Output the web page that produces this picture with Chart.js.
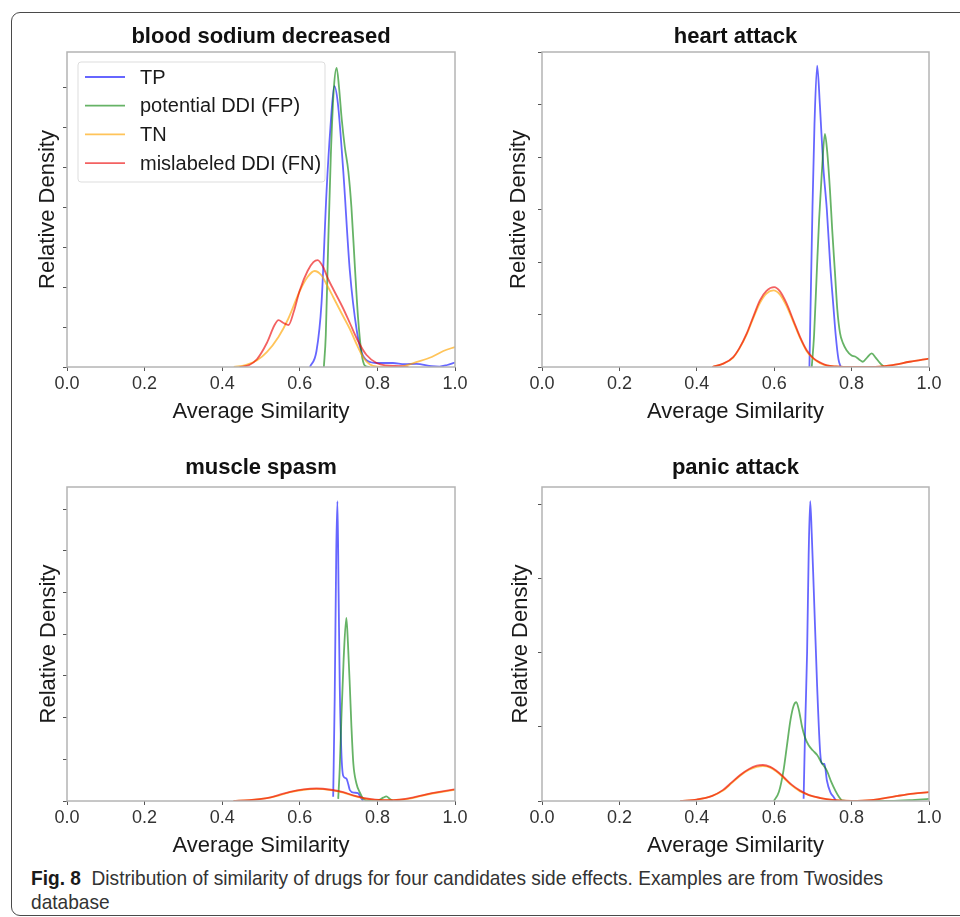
<!DOCTYPE html>
<html>
<head>
<meta charset="utf-8">
<script src="https://cdn.jsdelivr.net/npm/chart.js@4.4.0/dist/chart.umd.min.js"></script>
<style>
  body {
    margin: 0;
    background: #fff;
    width: 960px;
    height: 917px;
    overflow: hidden;
    position: relative;
  }
  #frame {
    position: absolute;
    left: 11px;
    top: 12px;
    width: 1000px;
    height: 902px;
    border: 1.5px solid #4a4a4a;
    border-radius: 9px;
  }
  canvas {
    position: absolute;
  }
  #caption {
    position: absolute;
    left: 31px;
    top: 866px;
    font-family: "Liberation Sans", Arial, sans-serif;
    font-size: 21px;
    line-height: 24px;
    color: #333;
    white-space: nowrap;
    transform: scaleX(0.91);
    transform-origin: left top;
  }
  #caption b {
    color: #1a1a1a;
  }
</style>
</head>
<body>
<div id="frame"></div>
<canvas id="c0"></canvas>
<canvas id="c1"></canvas>
<canvas id="c2"></canvas>
<canvas id="c3"></canvas>
<div id="caption"><b>Fig. 8</b>&nbsp; Distribution of similarity of drugs for four candidates side effects. Examples are from Twosides<br>database</div>
<script>
const seriesLabels = ["TP", "potential DDI (FP)", "TN", "mislabeled DDI (FN)"];
const panelTitles = ["blood sodium decreased", "heart attack", "muscle spasm", "panic attack"];
const xTickValues = [0, 0.2, 0.4, 0.6, 0.8, 1.0];
// y is in units of one (unlabelled) tick step
const yMaxes = [7.875, 6.0, 7.53, 4.23];

// [average similarity, relative density]
const bloodTP = [[0.626, 0], [0.643, 0.4], [0.656, 1.6], [0.669, 4.4], [0.679, 6.0], [0.689, 7.02], [0.698, 6.6], [0.712, 4.9], [0.729, 2.4], [0.747, 0.9], [0.76, 0.35], [0.775, 0.15], [0.8, 0.1], [0.84, 0.1], [0.87, 0.07], [0.9, 0.08], [0.94, 0.02], [0.96, 0.01], [0.98, 0.05], [1.0, 0.11]];
const bloodFP = [[0.662, 0], [0.667, 0.8], [0.673, 3.0], [0.68, 5.3], [0.688, 7.0], [0.695, 7.48], [0.701, 7.0], [0.708, 6.2], [0.716, 5.5], [0.725, 4.9], [0.733, 4.0], [0.742, 2.5], [0.75, 1.25], [0.759, 0.35], [0.768, 0.03], [0.78, 0]];
const bloodTN = [[0.43, 0], [0.46, 0.05], [0.49, 0.17], [0.515, 0.37], [0.545, 0.75], [0.57, 1.2], [0.6, 1.9], [0.62, 2.25], [0.638, 2.4], [0.655, 2.3], [0.67, 2.05], [0.686, 1.75], [0.71, 1.3], [0.729, 0.95], [0.745, 0.6], [0.763, 0.25], [0.78, 0.07], [0.8, 0.01], [0.84, 0], [0.87, 0.03], [0.9, 0.12], [0.94, 0.25], [0.97, 0.4], [1.0, 0.5]];
const bloodFN = [[0.445, 0], [0.47, 0.05], [0.49, 0.2], [0.515, 0.6], [0.535, 1.05], [0.545, 1.17], [0.558, 1.1], [0.571, 1.05], [0.585, 1.4], [0.6, 1.92], [0.62, 2.4], [0.635, 2.62], [0.646, 2.67], [0.66, 2.5], [0.673, 2.2], [0.686, 1.95], [0.71, 1.5], [0.729, 1.1], [0.75, 0.65], [0.772, 0.3], [0.798, 0.1], [0.82, 0.04], [0.86, 0.02], [0.88, 0]];

const heartTP = [[0.691, 0], [0.699, 3.07], [0.704, 4.6], [0.711, 5.74], [0.718, 5.0], [0.727, 3.8], [0.736, 3.0], [0.745, 1.91], [0.753, 1.15], [0.759, 0.6], [0.766, 0.15], [0.772, 0]];
const heartFP = [[0.697, 0], [0.703, 0.6], [0.71, 1.8], [0.716, 2.8], [0.723, 3.7], [0.731, 4.44], [0.737, 4.1], [0.744, 3.38], [0.75, 2.6], [0.757, 1.8], [0.763, 1.1], [0.77, 0.65], [0.778, 0.45], [0.787, 0.32], [0.8, 0.22], [0.809, 0.2], [0.82, 0.14], [0.829, 0.1], [0.84, 0.18], [0.852, 0.26], [0.862, 0.18], [0.873, 0.08], [0.884, 0]];
const heartTN = [[0.44, 0], [0.47, 0.07], [0.494, 0.18], [0.51, 0.35], [0.529, 0.62], [0.547, 0.95], [0.563, 1.22], [0.58, 1.4], [0.598, 1.46], [0.615, 1.38], [0.632, 1.16], [0.65, 0.85], [0.667, 0.55], [0.684, 0.3], [0.701, 0.16], [0.72, 0.07], [0.736, 0.03], [0.76, 0.01], [0.8, 0], [0.85, 0], [0.9, 0.03], [0.95, 0.1], [1.0, 0.16]];
const heartFN = [[0.44, 0], [0.47, 0.07], [0.494, 0.19], [0.51, 0.36], [0.529, 0.64], [0.547, 0.98], [0.563, 1.27], [0.58, 1.45], [0.6, 1.52], [0.615, 1.44], [0.632, 1.21], [0.65, 0.88], [0.667, 0.57], [0.684, 0.32], [0.701, 0.17], [0.72, 0.08], [0.736, 0.03], [0.76, 0.01], [0.8, 0], [0.85, 0], [0.9, 0.03], [0.95, 0.1], [1.0, 0.16]];

const muscleTP = [[0.686, 0.1], [0.69, 2.5], [0.694, 6.0], [0.697, 7.19], [0.7, 5.0], [0.703, 2.74], [0.707, 1.2], [0.712, 0.6], [0.72, 0.54], [0.725, 0.4], [0.729, 0.26], [0.74, 0.2], [0.75, 0.19], [0.756, 0.1], [0.763, 0]];
const muscleFP = [[0.699, 0.05], [0.703, 0.8], [0.707, 1.94], [0.713, 3.4], [0.72, 4.39], [0.724, 3.8], [0.729, 2.74], [0.733, 1.8], [0.738, 0.9], [0.746, 0.42], [0.755, 0.2], [0.763, 0.06], [0.78, 0], [0.8, 0.01], [0.815, 0.08], [0.823, 0.11], [0.832, 0.05], [0.84, 0]];
const muscleTN = [[0.429, 0], [0.47, 0.02], [0.515, 0.07], [0.545, 0.13], [0.575, 0.21], [0.61, 0.27], [0.643, 0.29], [0.68, 0.26], [0.712, 0.2], [0.74, 0.12], [0.772, 0.05], [0.815, 0.02], [0.84, 0.02], [0.858, 0.03], [0.89, 0.07], [0.926, 0.15], [0.96, 0.21], [1.0, 0.27]];
const muscleFN = [[0.429, 0], [0.47, 0.02], [0.515, 0.07], [0.545, 0.14], [0.575, 0.22], [0.61, 0.28], [0.643, 0.3], [0.68, 0.27], [0.712, 0.21], [0.74, 0.13], [0.772, 0.06], [0.815, 0.02], [0.84, 0.02], [0.858, 0.03], [0.89, 0.08], [0.926, 0.16], [0.96, 0.22], [1.0, 0.28]];

const panicTP = [[0.676, 0.03], [0.68, 1.0], [0.685, 2.0], [0.689, 3.3], [0.693, 4.04], [0.697, 3.6], [0.702, 2.88], [0.711, 1.54], [0.719, 0.64], [0.725, 0.5], [0.73, 0.5], [0.736, 0.28], [0.745, 0.12], [0.754, 0.05], [0.76, 0]];
const panicFP = [[0.599, 0], [0.612, 0.12], [0.624, 0.41], [0.633, 0.75], [0.642, 1.09], [0.65, 1.28], [0.657, 1.33], [0.664, 1.22], [0.672, 1.0], [0.68, 0.85], [0.689, 0.75], [0.7, 0.68], [0.711, 0.62], [0.722, 0.52], [0.736, 0.41], [0.748, 0.25], [0.758, 0.14], [0.768, 0.05], [0.775, 0.01], [0.8, 0], [0.9, 0], [0.95, 0.01], [1.0, 0.03]];
const panicTN = [[0.357, 0], [0.4, 0.02], [0.44, 0.07], [0.468, 0.14], [0.49, 0.24], [0.512, 0.34], [0.535, 0.42], [0.555, 0.46], [0.571, 0.47], [0.59, 0.45], [0.605, 0.4], [0.623, 0.32], [0.645, 0.21], [0.667, 0.13], [0.69, 0.08], [0.72, 0.04], [0.75, 0.015], [0.8, 0], [0.85, 0.01], [0.874, 0.03], [0.92, 0.07], [0.96, 0.1], [1.0, 0.12]];
const panicFN = [[0.357, 0], [0.4, 0.02], [0.44, 0.07], [0.468, 0.15], [0.49, 0.25], [0.512, 0.35], [0.535, 0.43], [0.555, 0.475], [0.571, 0.485], [0.59, 0.46], [0.605, 0.41], [0.623, 0.33], [0.645, 0.22], [0.667, 0.14], [0.69, 0.08], [0.72, 0.04], [0.75, 0.015], [0.8, 0], [0.85, 0.01], [0.874, 0.03], [0.92, 0.07], [0.96, 0.1], [1.0, 0.12]];

const panelSeries = [
  [bloodTP, bloodFP, bloodTN, bloodFN],
  [heartTP, heartFP, heartTN, heartFN],
  [muscleTP, muscleFP, muscleTN, muscleFN],
  [panicTP, panicFP, panicTN, panicFN],
];

// styling / layout
const seriesColors = ["rgba(0,0,255,0.6)", "rgba(0,128,0,0.6)", "rgba(255,165,0,0.65)", "rgba(235,0,0,0.62)"];
const fontFamily = '"Liberation Sans", Arial, sans-serif';
const panelBoxes = [
  { x: 10, y: 12, w: 460, h: 413, titleGap: 15, yGap: 19, xGap: 38 },
  { x: 485, y: 12, w: 459, h: 413, titleGap: 15, yGap: 23, xGap: 38 },
  { x: 10, y: 447, w: 460, h: 412, titleGap: 19, yGap: 18, xGap: 41 },
  { x: 485, y: 447, w: 459, h: 412, titleGap: 19, yGap: 21, xGap: 41 },
];

const framePlugin = {
  id: "frame",
  afterDraw(chart) {
    const a = chart.chartArea;
    const ctx = chart.ctx;
    ctx.save();
    ctx.strokeStyle = "#b4b4b4";
    ctx.lineWidth = 1.5;
    ctx.strokeRect(a.left, a.top, a.right - a.left, a.bottom - a.top);
    ctx.restore();
  },
};

const legendPlugin = {
  id: "innerLegend",
  afterDatasetsDraw(chart) {
    const a = chart.chartArea;
    const ctx = chart.ctx;
    const x = a.left + 11;
    const y = a.top + 10;
    ctx.save();
    ctx.fillStyle = "rgba(255,255,255,0.9)";
    ctx.strokeStyle = "#dddddd";
    ctx.lineWidth = 1;
    ctx.beginPath();
    ctx.roundRect(x, y, 247, 120, 3);
    ctx.fill();
    ctx.stroke();
    ctx.font = "20px " + fontFamily;
    ctx.textBaseline = "middle";
    chart.data.datasets.forEach((ds, k) => {
      const ly = a.top + 25 + k * 28.7;
      ctx.strokeStyle = ds.borderColor;
      ctx.lineWidth = 1.8;
      ctx.beginPath();
      ctx.moveTo(a.left + 18, ly);
      ctx.lineTo(a.left + 58, ly);
      ctx.stroke();
      ctx.fillStyle = "#1a1a1a";
      ctx.fillText(ds.label, a.left + 73, ly + 1);
    });
    ctx.restore();
  },
};

function renderPanel(i) {
  const box = panelBoxes[i];
  const canvas = document.getElementById("c" + i);
  canvas.width = box.w;
  canvas.height = box.h;
  canvas.style.left = box.x + "px";
  canvas.style.top = box.y + "px";

  const datasets = panelSeries[i].map((points, k) => ({
    label: seriesLabels[k],
    data: points.map((p) => ({ x: p[0], y: p[1] })),
    borderColor: seriesColors[k],
    borderWidth: 1.8,
    pointRadius: 0,
    fill: false,
    cubicInterpolationMode: "monotone",
    order: 3 - k,
  }));

  const lh = 22 * 1.2;
  const titleTop = 40 - box.titleGap - lh / 2;

  new Chart(canvas.getContext("2d"), {
    type: "line",
    data: { datasets: datasets },
    options: {
      responsive: false,
      animation: false,
      layout: { padding: { left: 0, right: 15, top: 0, bottom: 0 } },
      plugins: {
        legend: { display: false },
        tooltip: { enabled: false },
        title: {
          display: true,
          text: panelTitles[i],
          fullSize: false,
          color: "#111",
          font: { family: fontFamily, size: 22, weight: "bold", lineHeight: 1.2 },
          padding: { top: titleTop, bottom: 40 - lh - titleTop },
        },
      },
      scales: {
        x: {
          type: "linear",
          min: 0,
          max: 1,
          afterBuildTicks: (s) => {
            s.ticks = xTickValues.map((v) => ({ value: v }));
          },
          afterFit: (s) => {
            s.height = 58;
          },
          ticks: {
            callback: (v) => v.toFixed(1),
            padding: 2,
            maxRotation: 0,
            autoSkip: false,
            color: "#333",
            font: { family: fontFamily, size: 18 },
          },
          grid: { drawOnChartArea: false, tickLength: 4, color: "#555" },
          border: { display: false },
          title: {
            display: true,
            text: "Average Similarity",
            color: "#1a1a1a",
            font: { family: fontFamily, size: 22, lineHeight: 1.2 },
            padding: { top: 58 - box.xGap - lh / 2, bottom: 0 },
          },
        },
        y: {
          type: "linear",
          min: 0,
          max: yMaxes[i],
          afterBuildTicks: (s) => {
            s.ticks = s.ticks.filter((t) => Number.isInteger(t.value));
          },
          afterFit: (s) => {
            s.width = 57;
          },
          ticks: { display: false, stepSize: 1 },
          grid: { drawOnChartArea: false, tickLength: 4, color: "#555" },
          border: { display: false },
          title: {
            display: true,
            text: "Relative Density",
            color: "#1a1a1a",
            font: { family: fontFamily, size: 22, lineHeight: 1.2 },
            padding: { top: 57 - box.yGap - lh / 2, bottom: 0 },
          },
        },
      },
    },
    plugins: i === 0 ? [framePlugin, legendPlugin] : [framePlugin],
  });
}

window.onload = () => {
  for (let i = 0; i < 4; i++) renderPanel(i);
};
</script>
</body>
</html>
